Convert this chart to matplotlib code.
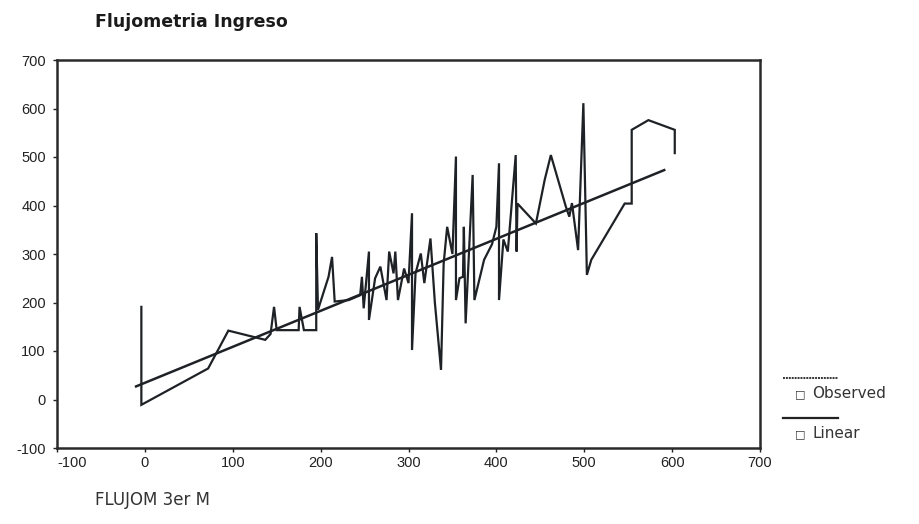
import matplotlib
matplotlib.use("Agg")
import matplotlib.pyplot as plt
from matplotlib.lines import Line2D

plt.rcParams['font.family'] = ['Liberation Sans', 'DejaVu Sans']

# Observed series (sorted by x, repeated x gives vertical segments)
obs_x = [-4, -4, 72, 95, 137, 143, 147, 150, 175, 176, 181, 195, 195, 197, 209,
         213, 216, 232, 245, 247, 249, 255, 255, 262, 268, 275, 278, 283, 285,
         288, 295, 300, 304, 304, 308, 314, 318, 325, 330, 337, 340, 344, 350,
         354, 354, 358, 362, 363, 365, 373, 375, 386, 395, 400, 403, 403, 408,
         413, 422, 423, 424, 445, 455, 462, 479, 483, 486, 493, 499, 503, 508,
         546, 554, 554, 573, 603, 603]
obs_y = [191, -11, 64, 142, 123, 135, 191, 143, 143, 191, 143, 143, 343, 185, 253,
         294, 202, 205, 215, 253, 188, 305, 164, 250, 274, 205, 305, 260, 305,
         205, 270, 240, 384, 102, 260, 301, 240, 332, 200, 61, 280, 356, 300,
         501, 205, 250, 253, 356, 157, 463, 205, 288, 320, 356, 487, 205, 330,
         305, 504, 305, 404, 363, 453, 504, 398, 377, 405, 308, 611, 257, 288,
         404, 404, 556, 576, 556, 508]

# Linear fit line (end points)
fit_x = [-10, 591]
fit_y = [27, 473]

x_ticks = [-100, 0, 100, 200, 300, 400, 500, 600, 700]
y_ticks = [-100, 0, 100, 200, 300, 400, 500, 600, 700]

title = "Flujometria Ingreso"
x_label = "FLUJOM 3er M"

W, H = 919, 524
fig = plt.figure(figsize=(W / 100, H / 100), dpi=100)
ax = fig.add_axes([57 / W, 1 - 448 / H, (760 - 57) / W, (448 - 60) / H])

line_col = '#1e2226'
ax.plot(obs_x, obs_y, color=line_col, lw=1.6, solid_joinstyle='miter')
ax.plot(fit_x, fit_y, color=line_col, lw=1.8)

ax.set_xlim(-100, 700)
ax.set_ylim(-100, 700)
ax.set_xticks(x_ticks)
ax.set_yticks(y_ticks)
ax.set_xticklabels([str(t) for t in x_ticks])
ax.set_yticklabels([str(t) for t in y_ticks])
ax.get_xticklabels()[0].set_horizontalalignment('left')
ax.tick_params(axis='both', labelsize=10.5, colors='#222222', length=3, width=1,
               direction='out')
ax.tick_params(axis='x', pad=3)
ax.tick_params(axis='y', pad=5)
for s in ax.spines.values():
    s.set_linewidth(1.8)
    s.set_color('#2a2a2a')

wide = ['DejaVu Sans']
fig.text(95 / W, 1 - 22 / H, title, fontsize=12.5, fontweight='bold',
         family=wide, ha='left', va='center', color='#1a1a1a')
fig.text(95 / W, 1 - 500 / H, x_label, fontsize=12, family=wide,
         ha='left', va='center', color='#333333')

# Legend (drawn outside the axes on the right)
fig.add_artist(Line2D([783 / W, 838 / W], [1 - 378 / H, 1 - 378 / H],
                      color='#333333', lw=1.4, linestyle=(0, (1, 0.5))))
fig.add_artist(Line2D([783 / W, 838 / W], [1 - 418 / H, 1 - 418 / H],
                      color='#222222', lw=1.6))
fig.text(800 / W, 1 - 394 / H, "\u25a1", fontsize=8, ha='center', va='center',
         color='#333333', family=wide)
fig.text(812 / W, 1 - 394 / H, "Observed", fontsize=11, ha='left', va='center',
         color='#333333', family=wide)
fig.text(800 / W, 1 - 434 / H, "\u25a1", fontsize=8, ha='center', va='center',
         color='#333333', family=wide)
fig.text(812 / W, 1 - 434 / H, "Linear", fontsize=11, ha='left', va='center',
         color='#333333', family=wide)

fig.savefig("out.png", dpi=100)
